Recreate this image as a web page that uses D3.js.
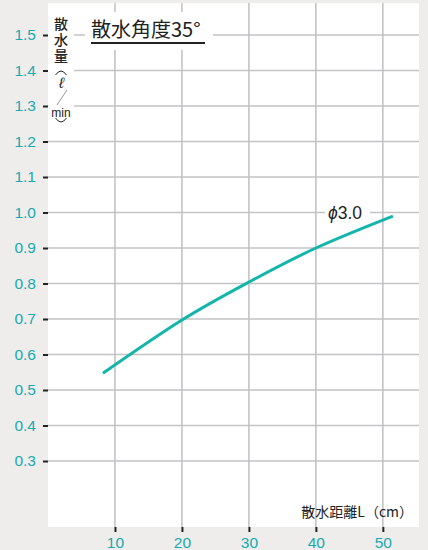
<!DOCTYPE html>
<html>
<head>
<meta charset="utf-8" />
<title></title>
<style>
html, body {
    padding: 0px;
    margin: 0px;
    background: #eeedeb;
}
svg text {
    font-family: "Liberation Sans", Arial, sans-serif;
}
.jp {
    font-family: "Noto Sans CJK JP", sans-serif;
}
</style>
</head>
<body>
<svg id="chart" width="428" height="550"></svg>

<script src="https://cdnjs.cloudflare.com/ajax/libs/d3/7.8.5/d3.min.js"></script>
<script>
// values
var distance = [8.2, 20, 30, 40, 51.5];
var flow = [0.547, 0.697, 0.804, 0.90, 0.99];
var xTicks = [10, 20, 30, 40, 50];
var yTicks = [0.3, 0.4, 0.5, 0.6, 0.7, 0.8, 0.9, 1.0, 1.1, 1.2, 1.3, 1.4, 1.5];
var seriesSymbol = "ϕ";
var seriesSize = "3.0";
var title = "散水角度35°";
var xTitle = "散水距離L（cm）";
var yTitle = "散水量";

!(function(){
    "use strict";

    var teal = "#17aab0";
    var gridColor = "#c3c3c6";
    var left = 48, right = 419, top = 3, bottom = 527;

    var svg = d3.select("#chart");

    var x = d3.scaleLinear().domain([0, 55.4]).range([left, right]);
    var y = d3.scaleLinear().domain([0.3, 1.5]).range([461, 35]);

    svg.append("rect")
        .attr("x", left).attr("y", top)
        .attr("width", right - left).attr("height", bottom - top)
        .attr("fill", "#fff");

    // grid
    var grid = svg.append("g");
    grid.selectAll(".vg").data(xTicks).enter().append("line")
        .attr("x1", function(d){ return x(d); })
        .attr("x2", function(d){ return x(d); })
        .attr("y1", top).attr("y2", bottom)
        .attr("stroke", gridColor).attr("stroke-width", 1.6);
    grid.selectAll(".hg").data(yTicks).enter().append("line")
        .attr("x1", left).attr("x2", right)
        .attr("y1", function(d){ return y(d); })
        .attr("y2", function(d){ return y(d); })
        .attr("stroke", gridColor).attr("stroke-width", 1.6);

    // axes
    var yAxis = svg.append("g")
        .attr("transform", "translate(" + left + ",0)")
        .call(d3.axisLeft(y).tickValues(yTicks).tickSize(5).tickPadding(7)
            .tickFormat(d3.format(".1f")));
    var xAxis = svg.append("g")
        .attr("transform", "translate(0," + bottom + ")")
        .call(d3.axisBottom(x).tickValues(xTicks).tickSize(5).tickPadding(5));

    [yAxis, xAxis].forEach(function(a){
        a.select(".domain").remove();
        a.selectAll(".tick line").attr("stroke", "#222").attr("stroke-width", 2);
        a.selectAll(".tick text")
            .attr("fill", teal)
            .style("font-size", "15.5px")
            .style("font-family", "'Liberation Sans', Arial, sans-serif");
    });

    // white boxes behind labels
    svg.append("rect").attr("x", left).attr("y", top).attr("width", 26).attr("height", 124).attr("fill", "#fff");
    svg.append("rect").attr("x", 85).attr("y", 12).attr("width", 128).attr("height", 38).attr("fill", "#fff");
    svg.append("rect").attr("x", 325).attr("y", 203).attr("width", 45).attr("height", 20).attr("fill", "#fff");

    // curve
    var line = d3.line()
        .x(function(d, i){ return x(distance[i]); })
        .y(function(d){ return y(d); })
        .curve(d3.curveNatural);

    svg.append("path")
        .attr("d", line(flow))
        .attr("fill", "none")
        .attr("stroke", "#14b5ab")
        .attr("stroke-width", 3);

    var lab = svg.append("text")
        .attr("x", 328).attr("y", 219)
        .attr("fill", "#222")
        .style("font-size", "17.5px");
    lab.append("tspan").style("font-style", "italic").text(seriesSymbol);
    lab.append("tspan").text(seriesSize);

    // title
    svg.append("text")
        .attr("class", "jp")
        .attr("x", 91).attr("y", 37)
        .attr("fill", "#222")
        .style("font-size", "20px")
        .text(title);
    svg.append("line")
        .attr("x1", 91).attr("x2", 205)
        .attr("y1", 43).attr("y2", 43)
        .attr("stroke", "#222").attr("stroke-width", 2);

    // y title, written top to bottom
    var yl = svg.append("g").attr("fill", "#222");
    yl.append("text").attr("class", "jp")
        .attr("x", 61).attr("y", 17)
        .attr("writing-mode", "vertical-rl")
        .style("font-size", "14px")
        .style("font-weight", 500)
        .style("letter-spacing", "1.6px")
        .text(yTitle);
    yl.append("path").attr("d", "M55.5,75 Q61,67 66.5,75")
        .attr("fill", "none").attr("stroke", "#222").attr("stroke-width", 1);
    yl.append("text")
        .attr("x", 61.5).attr("y", 88)
        .attr("text-anchor", "middle")
        .style("font-size", "15px").style("font-style", "italic")
        .text("ℓ");
    yl.append("line").attr("x1", 67).attr("y1", 90).attr("x2", 57).attr("y2", 105)
        .attr("stroke", "#999").attr("stroke-width", 1);
    yl.append("text")
        .attr("x", 61).attr("y", 117)
        .attr("text-anchor", "middle")
        .style("font-size", "12px")
        .text("min");
    yl.append("path").attr("d", "M55.5,118 Q61,126 66.5,118")
        .attr("fill", "none").attr("stroke", "#222").attr("stroke-width", 1);

    // x title
    svg.append("text")
        .attr("class", "jp")
        .attr("x", 413).attr("y", 517)
        .attr("text-anchor", "end")
        .attr("fill", "#222")
        .style("font-size", "14px")
        .text(xTitle);

}());
</script>
</body>
</html>
